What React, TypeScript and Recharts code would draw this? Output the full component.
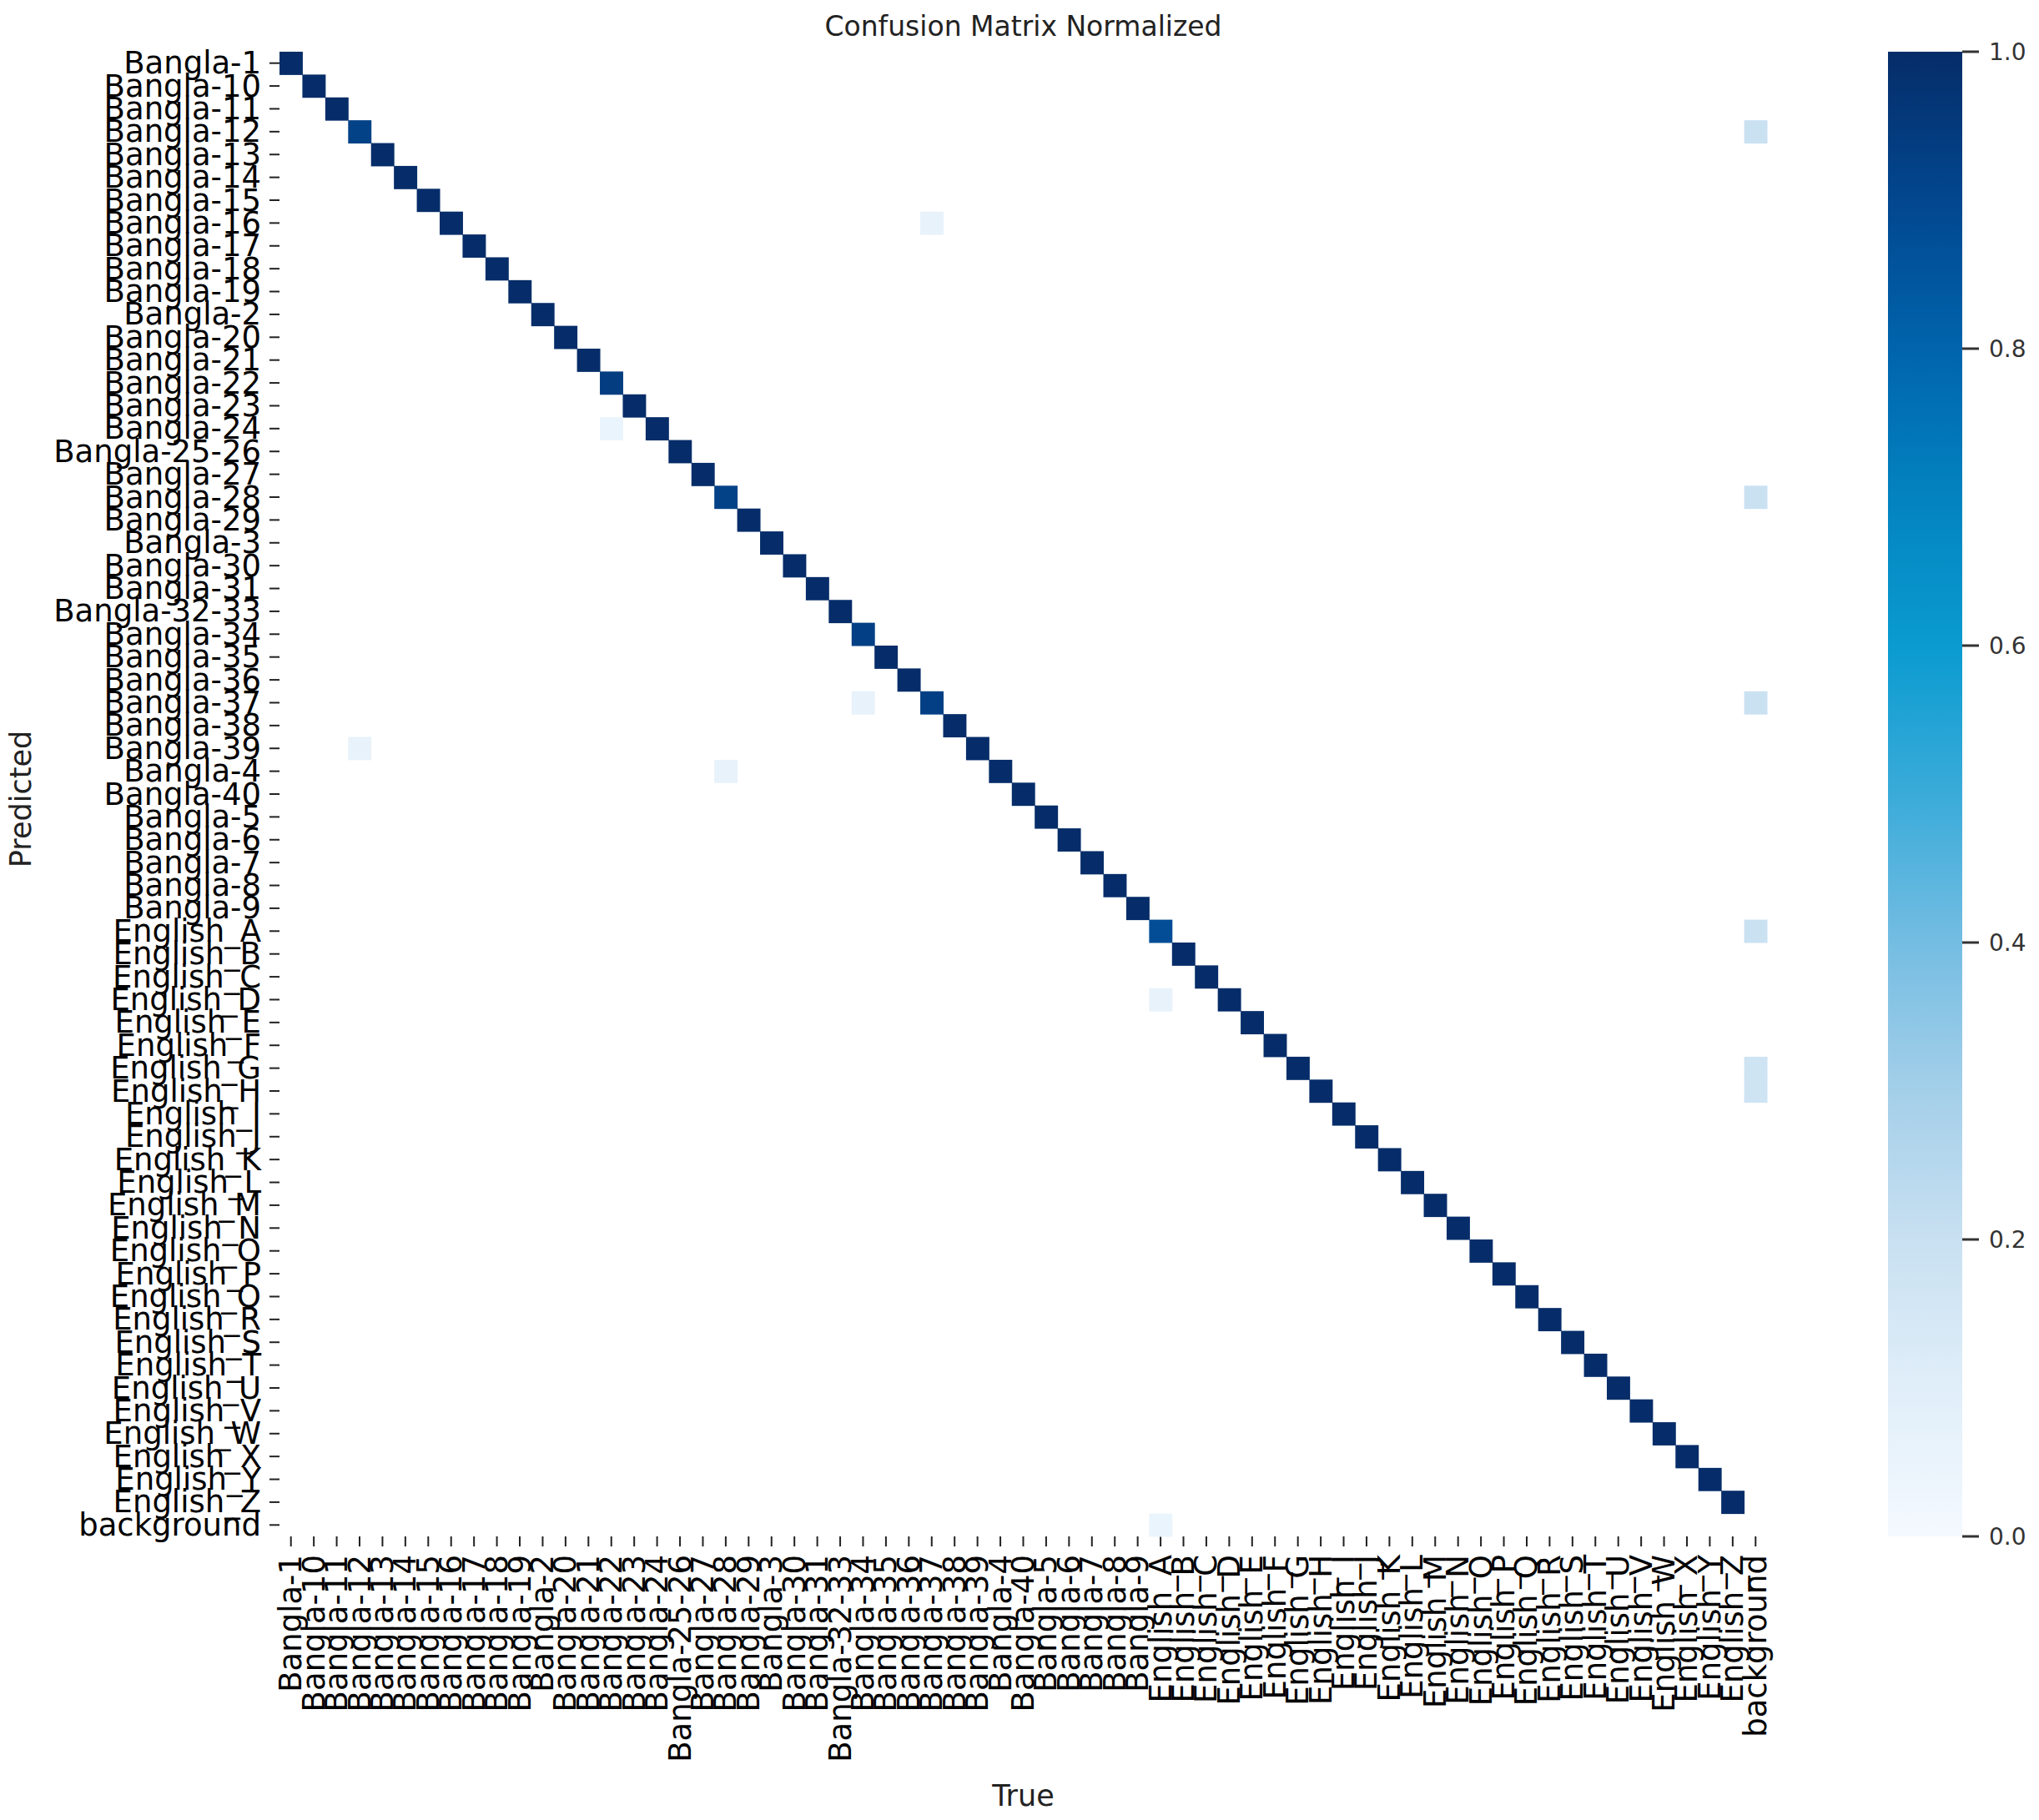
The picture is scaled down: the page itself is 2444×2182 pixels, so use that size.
import React from 'react'
import { Bar, BarChart, Scatter, ScatterChart, XAxis, YAxis } from 'recharts'

const classNames = [
  'Bangla-1', 'Bangla-10', 'Bangla-11', 'Bangla-12', 'Bangla-13', 'Bangla-14', 'Bangla-15', 'Bangla-16',
  'Bangla-17', 'Bangla-18', 'Bangla-19', 'Bangla-2', 'Bangla-20', 'Bangla-21', 'Bangla-22', 'Bangla-23',
  'Bangla-24', 'Bangla-25-26', 'Bangla-27', 'Bangla-28', 'Bangla-29', 'Bangla-3', 'Bangla-30', 'Bangla-31',
  'Bangla-32-33', 'Bangla-34', 'Bangla-35', 'Bangla-36', 'Bangla-37', 'Bangla-38', 'Bangla-39', 'Bangla-4',
  'Bangla-40', 'Bangla-5', 'Bangla-6', 'Bangla-7', 'Bangla-8', 'Bangla-9',
  'English_A', 'English_B', 'English_C', 'English_D', 'English_E', 'English_F', 'English_G', 'English_H',
  'English_I', 'English_J', 'English_K', 'English_L', 'English_M', 'English_N', 'English_O', 'English_P',
  'English_Q', 'English_R', 'English_S', 'English_T', 'English_U', 'English_V', 'English_W', 'English_X',
  'English_Y', 'English_Z', 'background',
]

// correct predictions, same order as classNames
const diagonal = [
  1, 1, 1, 0.92, 1, 1, 1, 1,
  1, 1, 1, 1, 1, 1, 0.94, 1,
  1, 1, 1, 0.92, 1, 1, 1, 1,
  1, 0.93, 1, 1, 0.93, 1, 1, 1,
  1, 1, 1, 1, 1, 1,
  0.88, 1, 1, 1, 1, 1, 1, 1,
  1, 1, 1, 1, 1, 1, 1, 1,
  1, 1, 1, 1, 1, 1, 1, 1,
  1, 1, 0,
]

// confusions off the diagonal
const offPredicted = ['Bangla-12', 'Bangla-16', 'Bangla-24', 'Bangla-28', 'Bangla-37', 'Bangla-37', 'Bangla-39', 'Bangla-4', 'English_A', 'English_D', 'English_G', 'English_H', 'background']
const offTrue = ['background', 'Bangla-37', 'Bangla-22', 'background', 'Bangla-34', 'background', 'Bangla-12', 'Bangla-28', 'background', 'English_A', 'background', 'background', 'English_A']
const offValues = [0.19, 0.06, 0.05, 0.19, 0.06, 0.19, 0.06, 0.06, 0.19, 0.06, 0.17, 0.17, 0.05]

const colorbarTicks = [0, 0.2, 0.4, 0.6, 0.8, 1.0]

// blue colormap as it appears in the picture (0 -> 1 in steps of 0.1)
const bluesStops = [
  '#f4f9fe', '#e0eef9', '#c8e0f1', '#a4cfe9', '#74bde2', '#3aabd9',
  '#0a9bd0', '#0383c0', '#0064ac', '#02478f', '#062d69',
]

const hex = (h: string) => [1, 3, 5].map((i) => parseInt(h.slice(i, i + 2), 16))
const blues = (v: number) => {
  const t = Math.max(0, Math.min(1, v)) * (bluesStops.length - 1)
  const i = Math.min(Math.floor(t), bluesStops.length - 2)
  const f = t - i
  const a = hex(bluesStops[i])
  const b = hex(bluesStops[i + 1])
  const c = a.map((x, k) => Math.round(x + (b[k] - x) * f))
  return `rgb(${c[0]},${c[1]},${c[2]})`
}

const n = classNames.length
const cells: { x: number; y: number; v: number }[] = []
diagonal.forEach((v, i) => {
  if (v > 0) cells.push({ x: i, y: i, v })
})
offValues.forEach((v, i) => {
  cells.push({ x: classNames.indexOf(offTrue[i]), y: classNames.indexOf(offPredicted[i]), v })
})

const W = 2444
const H = 2182
const margin = { top: 62, right: 326, bottom: 40, left: 35 }
const yAxisW = 300
const xAxisH = 300
const plotW = W - margin.left - margin.right - yAxisW
const plotH = H - margin.top - margin.bottom - xAxisH
const cellW = plotW / n
const cellH = plotH / n
const indices = classNames.map((_, i) => i)
const font = 'DejaVu Sans, sans-serif'

const Cell = (props: any) => (
  <rect
    x={props.cx - cellW / 2}
    y={props.cy - cellH / 2}
    width={cellW + 0.5}
    height={cellH + 0.5}
    fill={blues(props.payload.v)}
  />
)

const YTick = ({ x, y, payload }: any) => (
  <text x={x} y={y} textAnchor="end" dominantBaseline="central" fontSize={37} fontFamily={font} fill="#000">
    {classNames[payload.value]}
  </text>
)

const XTick = ({ x, y, payload }: any) => (
  <text
    x={x}
    y={y}
    transform={`rotate(-90, ${x}, ${y})`}
    textAnchor="end"
    dominantBaseline="central"
    fontSize={37}
    fontFamily={font}
    fill="#000"
  >
    {classNames[payload.value]}
  </text>
)

const CbTick = ({ x, y, payload }: any) => (
  <text x={x} y={y} dominantBaseline="central" fontSize={28} fontFamily={font} fill="#333">
    {payload.value.toFixed(1)}
  </text>
)

const cbLeft = 2263
const cbChartW = 200
const cbAxisW = 100
const cbBarW = 89

export default function App() {
  return (
    <div style={{ position: 'absolute', left: 0, top: 0, width: W, height: H, background: '#fff' }}>
      <div style={{ position: 'absolute', left: 0, top: 0 }}>
        <ScatterChart width={W} height={H} margin={margin}>
          <XAxis
            type="number"
            dataKey="x"
            domain={[-0.5, n - 0.5]}
            ticks={indices}
            interval={0}
            height={xAxisH}
            axisLine={false}
            tickSize={12}
            tickMargin={10}
            tickLine={{ stroke: '#222', strokeWidth: 2 }}
            tick={<XTick />}
          />
          <YAxis
            type="number"
            dataKey="y"
            domain={[-0.5, n - 0.5]}
            reversed
            ticks={indices}
            interval={0}
            width={yAxisW}
            axisLine={false}
            tickSize={12}
            tickMargin={10}
            tickLine={{ stroke: '#222', strokeWidth: 2 }}
            tick={<YTick />}
          />
          <Scatter data={cells} shape={<Cell />} isAnimationActive={false} />
        </ScatterChart>
      </div>

      <div style={{ position: 'absolute', left: cbLeft, top: 0 }}>
        <BarChart
          width={cbChartW}
          height={H}
          data={[{ name: 'cb', v: 1 }]}
          margin={{ top: margin.top, bottom: H - margin.top - plotH, left: 0, right: cbChartW - cbBarW - cbAxisW }}
          barCategoryGap={0}
        >
          <defs>
            <linearGradient id="bluesGrad" x1="0" y1="1" x2="0" y2="0">
              {bluesStops.map((c, i) => (
                <stop key={c} offset={i / (bluesStops.length - 1)} stopColor={c} />
              ))}
            </linearGradient>
          </defs>
          <XAxis dataKey="name" hide />
          <YAxis
            orientation="right"
            domain={[0, 1]}
            ticks={colorbarTicks}
            interval={0}
            width={cbAxisW}
            axisLine={false}
            tickSize={20}
            tickMargin={12}
            tickLine={{ stroke: '#333', strokeWidth: 3 }}
            tick={<CbTick />}
          />
          <Bar dataKey="v" fill="url(#bluesGrad)" isAnimationActive={false} />
        </BarChart>
      </div>

      <svg width={W} height={H} style={{ position: 'absolute', left: 0, top: 0, pointerEvents: 'none' }}>
        <text x={margin.left + yAxisW + plotW / 2} y={43} textAnchor="middle" fontSize={33} fontFamily={font} fill="#222">
          Confusion Matrix Normalized
        </text>
        <text x={margin.left + yAxisW + plotW / 2} y={2165} textAnchor="middle" fontSize={35} fontFamily={font} fill="#222">
          True
        </text>
        <text
          x={37}
          y={margin.top + plotH / 2 + 6}
          transform={`rotate(-90, 37, ${margin.top + plotH / 2 + 6})`}
          textAnchor="middle"
          fontSize={35}
          fontFamily={font}
          fill="#222"
        >
          Predicted
        </text>
      </svg>
    </div>
  )
}
